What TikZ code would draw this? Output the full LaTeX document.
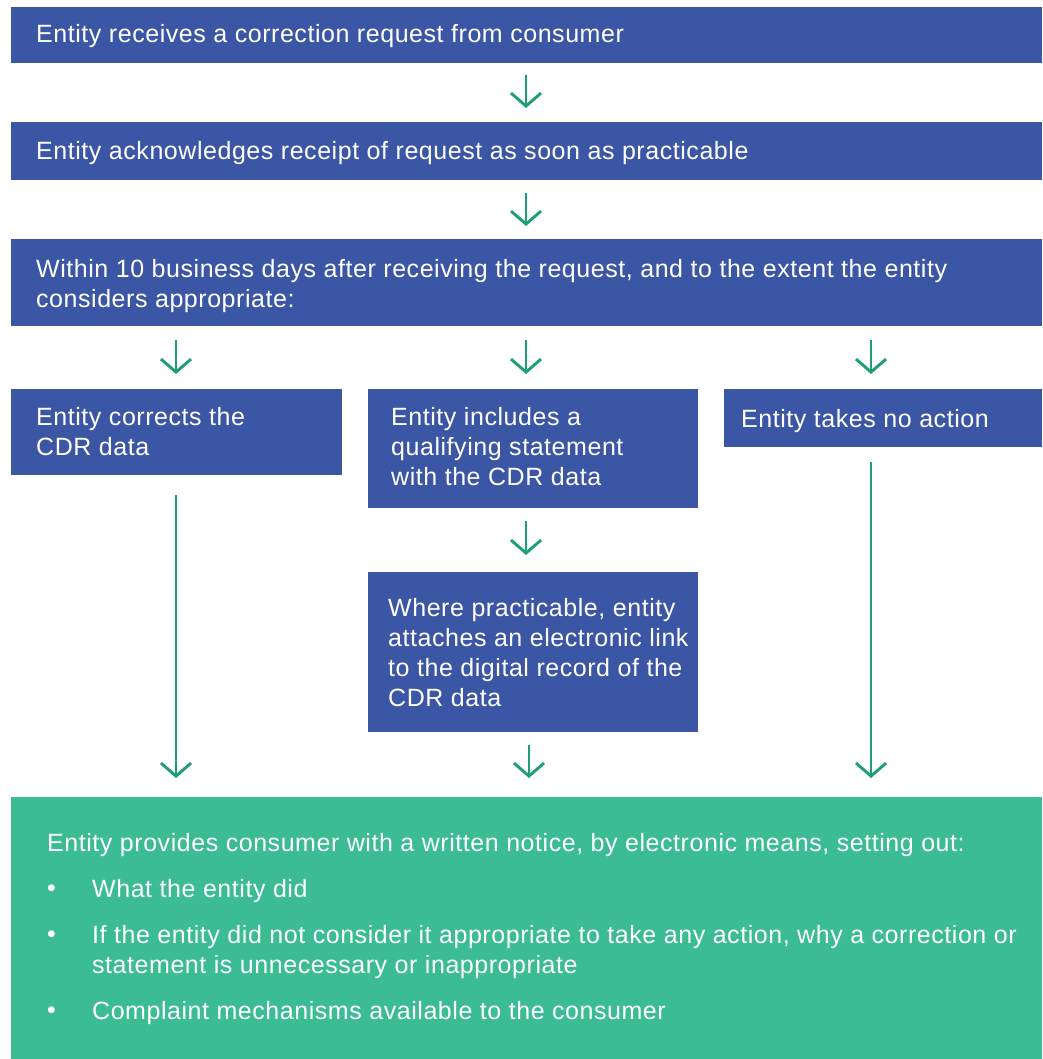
\documentclass[tikz,border=0pt]{standalone}
\usepackage{fontspec}
\setmainfont{Liberation Sans}[LetterSpace=2.2]
\usetikzlibrary{arrows.meta}
\definecolor{boxblue}{HTML}{3C56A6}
\definecolor{boxgreen}{HTML}{3BBC92}
\definecolor{arrgreen}{HTML}{1C9E77}
\begin{document}
\begin{tikzpicture}[x=1pt,y=1pt,
  bluebox/.style={fill=boxblue,draw=none,inner sep=0pt,anchor=north west},
  greenbox/.style={fill=boxgreen,draw=none,inner sep=0pt,anchor=north west},
  txt/.style={text=white,inner sep=0pt,anchor=north west,align=left,font=\fontsize{25}{30}\selectfont},
  flow/.style={draw=arrgreen,line width=2.9pt,-{Straight Barb[length=13pt,width=30pt,line width=2.9pt]}}
]
\useasboundingbox (0,0) rectangle (1042,-1059);
\fill[white] (0,0) rectangle (1042,-1059);
% boxes
\node[bluebox,minimum width=1031pt,minimum height=56pt] (b1) at (11,-7) {};
\node[bluebox,minimum width=1031pt,minimum height=58pt] (b2) at (11,-122) {};
\node[bluebox,minimum width=1031pt,minimum height=87pt] (b3) at (11,-239) {};
\node[bluebox,minimum width=331pt,minimum height=86pt] (b4a) at (11,-389) {};
\node[bluebox,minimum width=330pt,minimum height=119pt] (b4b) at (368,-389) {};
\node[bluebox,minimum width=318pt,minimum height=58pt] (b4c) at (724,-389) {};
\node[bluebox,minimum width=330pt,minimum height=160pt] (b5b) at (368,-572) {};
\node[greenbox,minimum width=1031pt,minimum height=262pt] (g) at (11,-797) {};
% texts
\node[txt] (t1) at (36,-24) {Entity receives a correction request from consumer};
\node[txt] (t2) at (36,-141) {Entity acknowledges receipt of request as soon as practicable};
\node[txt] (t3) at (36,-259) {Within 10 business days after receiving the request, and to the extent the entity\\considers appropriate:};
\node[txt] (t4a) at (36,-407) {Entity corrects the\\CDR data};
\node[txt] (t4b) at (391,-407) {Entity includes a\\qualifying statement\\with the CDR data};
\node[txt] (t4c) at (741,-409) {Entity takes no action};
\node[txt] (t5b) at (388,-598) {Where practicable, entity\\attaches an electronic link\\to the digital record of the\\CDR data};
\node[txt] (g0) at (47,-833) {Entity provides consumer with a written notice, by electronic means, setting out:};
\node[txt] (gb1) at (47,-879) {\vphantom{E}\textbullet};
\node[txt] (g1) at (92,-879) {What the entity did};
\node[txt] (gb2) at (47,-925) {\vphantom{E}\textbullet};
\node[txt] (g2) at (92,-925) {If the entity did not consider it appropriate to take any action, why a correction or\\statement is unnecessary or inappropriate};
\node[txt] (gb3) at (47,-1001) {\vphantom{E}\textbullet};
\node[txt] (g3) at (92,-1001) {Complaint mechanisms available to the consumer};
% connectors
\coordinate (c1) at (526,-63);
\draw[flow,shorten <=12pt,shorten >=14pt] (b1.south -| c1) -- (b2.north -| c1);
\draw[flow,shorten <=13pt,shorten >=13pt] (b2.south -| c1) -- (b3.north -| c1);
\coordinate (cl) at (176,0);
\coordinate (cm) at (526,0);
\coordinate (cr) at (871,0);
\draw[flow,shorten <=14pt,shorten >=15pt] (b3.south -| cl) -- (b4a.north -| cl);
\draw[flow,shorten <=14pt,shorten >=15pt] (b3.south -| cm) -- (b4b.north -| cm);
\draw[flow,shorten <=14pt,shorten >=15pt] (b3.south -| cr) -- (b4c.north -| cr);
\draw[flow,shorten <=13pt,shorten >=17pt] (b4b.south -| cm) -- (b5b.north -| cm);
\coordinate (cm2) at (529,0);
\draw[flow,shorten <=20pt,shorten >=19pt] (b4a.south -| cl) -- (g.north -| cl);
\draw[flow,shorten <=13pt,shorten >=19pt] (b5b.south -| cm2) -- (g.north -| cm2);
\draw[flow,shorten <=15pt,shorten >=19pt] (b4c.south -| cr) -- (g.north -| cr);
\end{tikzpicture}
\end{document}
